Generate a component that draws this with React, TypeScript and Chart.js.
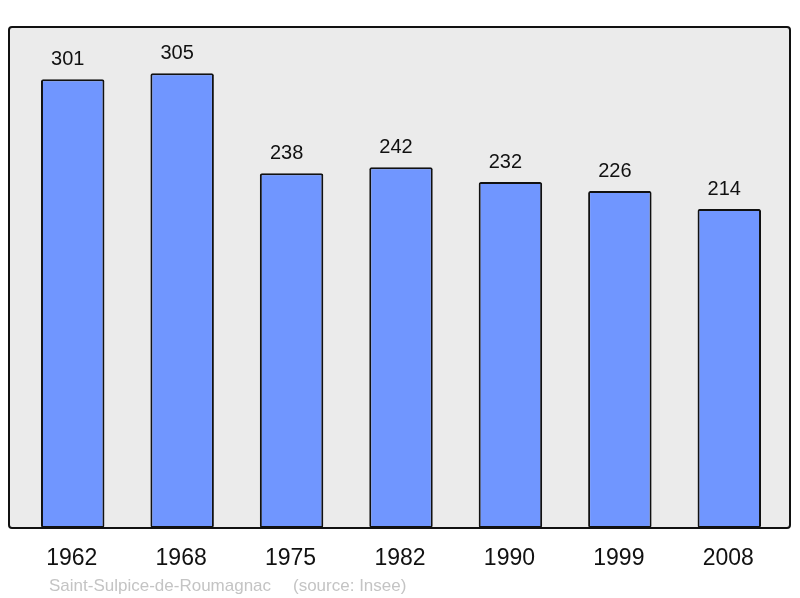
import React, { useEffect, useRef } from "react";
import { Chart, registerables } from "chart.js";

Chart.register(...registerables);

const years = ["1962", "1968", "1975", "1982", "1990", "1999", "2008"];
const population = [301, 305, 238, 242, 232, 226, 214];
const footerName = "Saint-Sulpice-de-Roumagnac";
const footerSource = "(source: Insee)";
const yMax = 336;

const FONT = "'Liberation Sans', Arial, sans-serif";

function framePath(ctx: any, l: number, t: number, r: number, b: number) {
  const rad = 3;
  ctx.beginPath();
  ctx.moveTo(l + rad, t);
  ctx.lineTo(r - rad, t);
  ctx.quadraticCurveTo(r, t, r, t + rad);
  ctx.lineTo(r, b - rad);
  ctx.quadraticCurveTo(r, b, r - rad, b);
  ctx.lineTo(l + rad, b);
  ctx.quadraticCurveTo(l, b, l, b - rad);
  ctx.lineTo(l, t + rad);
  ctx.quadraticCurveTo(l, t, l + rad, t);
  ctx.closePath();
}

const framePlugin = {
  id: "frame",
  beforeDatasetsDraw(chart: any) {
    const { ctx, chartArea } = chart;
    ctx.save();
    framePath(ctx, chartArea.left - 9, chartArea.top, chartArea.right + 6, chartArea.bottom);
    ctx.fillStyle = "#ebebeb";
    ctx.fill();
    ctx.restore();
  },
  afterDatasetsDraw(chart: any) {
    const { ctx, chartArea } = chart;
    const b = chartArea.bottom;
    ctx.save();
    framePath(ctx, chartArea.left - 9, chartArea.top, chartArea.right + 6, b);
    ctx.lineWidth = 2;
    ctx.strokeStyle = "#111";
    ctx.stroke();

    // value labels
    const meta = chart.getDatasetMeta(0);
    ctx.fillStyle = "#111";
    ctx.font = `20px ${FONT}`;
    ctx.textAlign = "center";
    ctx.textBaseline = "alphabetic";
    meta.data.forEach((bar: any, i: number) => {
      ctx.fillText(String(population[i]), bar.x - 5, bar.y - 14);
    });

    // category labels
    const xs = chart.scales.x;
    ctx.font = `23px ${FONT}`;
    years.forEach((y, i) => {
      ctx.fillText(y, xs.getPixelForValue(i) - 1, b + 37);
    });

    // footer
    ctx.fillStyle = "#c4c4c4";
    ctx.font = `17px ${FONT}`;
    ctx.textAlign = "left";
    ctx.fillText(footerName, 49, b + 63);
    ctx.fillText(footerSource, 293, b + 63);
    ctx.restore();
  },
};

export default function App() {
  const ref = useRef<HTMLCanvasElement>(null);
  useEffect(() => {
    document.body.style.margin = "0";
    const chart = new Chart(ref.current!, {
      type: "bar",
      data: {
        labels: years,
        datasets: [
          {
            data: population,
            backgroundColor: "#7096ff",
            borderColor: "#111",
            borderWidth: 2,
            borderSkipped: false,
            borderRadius: 2,
            categoryPercentage: 1,
            barPercentage: 0.58,
          },
        ],
      },
      options: {
        animation: false,
        responsive: false,
        maintainAspectRatio: false,
        layout: { padding: { left: 18, right: 16, top: 27, bottom: 70 } },
        plugins: { legend: { display: false }, tooltip: { enabled: false } },
        scales: {
          x: { display: false },
          y: { display: false, min: 0, max: yMax },
        },
      },
      plugins: [framePlugin],
    });
    return () => chart.destroy();
  }, []);
  return (
    <div style={{ position: "absolute", left: 0, top: 0, width: 800, height: 598 }}>
      <canvas ref={ref} width={800} height={598} style={{ width: 800, height: 598 }} />
    </div>
  );
}
